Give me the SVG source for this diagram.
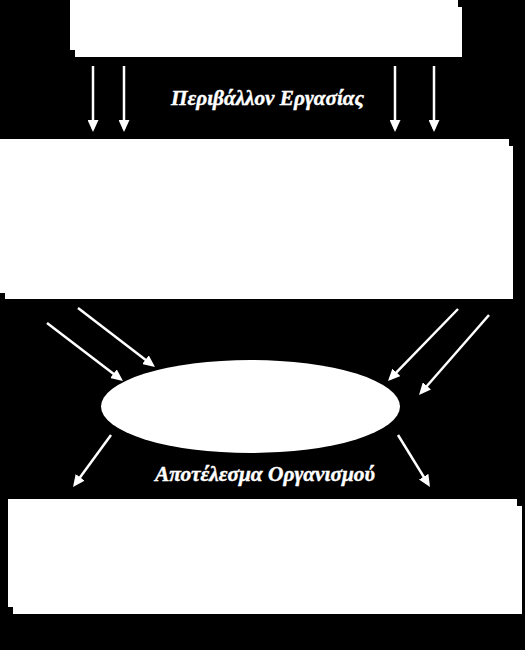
<svg xmlns="http://www.w3.org/2000/svg" width="525" height="650" viewBox="0 0 525 650">
<defs>
<style>
.box{fill:#ffffff;}
.conn{stroke:#ffffff;stroke-width:2.5;fill:none;marker-end:url(#ah);}
.lbl{fill:#ffffff;stroke:#ffffff;stroke-width:0.4;font-family:"Liberation Serif","DejaVu Serif",serif;font-weight:bold;font-style:italic;font-size:20px;}
</style>
<marker id="ah" markerUnits="userSpaceOnUse" markerWidth="13" markerHeight="11" refX="9" refY="5.5" orient="auto">
<path d="M0,0 L12,5.5 L0,11 z" fill="#ffffff"/>
</marker>
</defs>
<rect x="0" y="0" width="525" height="650" fill="#000000"/>
<g id="top-box">
<rect class="box" x="75" y="7" width="387" height="50"/>
<rect class="box" x="70" y="0" width="388" height="50"/>
</g>
<g id="middle-box">
<rect class="box" x="5" y="146" width="508" height="153"/>
<rect class="box" x="0" y="139" width="509" height="154"/>
</g>
<g id="organization">
<ellipse class="box" cx="250.5" cy="406.5" rx="149.5" ry="46.5"/>
</g>
<g id="bottom-box">
<rect class="box" x="13" y="506" width="509" height="108"/>
<rect class="box" x="8" y="499" width="509" height="108"/>
</g>
<g id="connectors">
<line class="conn" x1="93" y1="66" x2="93" y2="129"/>
<line class="conn" x1="124" y1="66" x2="124" y2="129"/>
<line class="conn" x1="395" y1="66" x2="395" y2="129"/>
<line class="conn" x1="434" y1="66" x2="434" y2="129"/>
<line class="conn" x1="47" y1="323" x2="120.6" y2="379.2"/>
<line class="conn" x1="78" y1="308" x2="152.6" y2="365.2"/>
<line class="conn" x1="458" y1="309" x2="390.1" y2="378.8"/>
<line class="conn" x1="489" y1="315" x2="421" y2="392.7"/>
<line class="conn" x1="111" y1="435" x2="74.8" y2="484.6"/>
<line class="conn" x1="398" y1="435" x2="428.4" y2="484.4"/>
</g>
<g id="labels">
<text class="lbl" x="171" y="105" textLength="193" lengthAdjust="spacingAndGlyphs">Περιβάλλον Εργασίας</text>
<text class="lbl" x="155" y="481" textLength="220" lengthAdjust="spacingAndGlyphs">Αποτέλεσμα Οργανισμού</text>
</g>
</svg>
